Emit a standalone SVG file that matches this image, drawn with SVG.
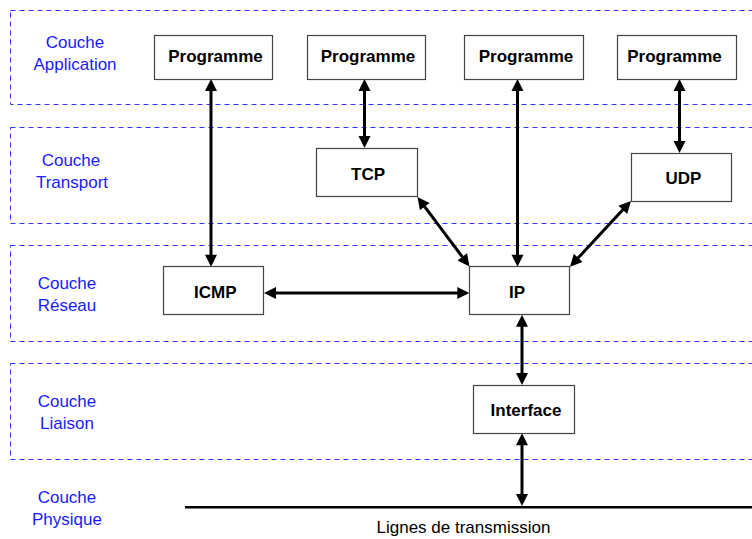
<svg xmlns="http://www.w3.org/2000/svg" width="752" height="539" viewBox="0 0 752 539">
<style>
.layer{fill:none;stroke:#3333ff;stroke-width:1;stroke-dasharray:5 4}
.lbl{font-family:"Liberation Sans",Arial,sans-serif;font-size:17px;fill:#1a1aff;text-anchor:middle}
.box{fill:#fff;stroke:#444;stroke-width:1.2}
.bt{font-family:"Liberation Sans",Arial,sans-serif;font-size:17px;font-weight:bold;fill:#000;text-anchor:middle}
.con{stroke:#000;stroke-width:3;fill:none;marker-start:url(#ah);marker-end:url(#ah)}
</style>
<defs>
<marker id="ah" markerUnits="userSpaceOnUse" markerWidth="12" markerHeight="12" refX="1" refY="6" orient="auto-start-reverse" overflow="visible">
<path d="M0,0 L12,6 L0,12 z" fill="#000"/>
</marker>
</defs>
<rect width="752" height="539" fill="#fff"/>
<g id="layers">
<rect class="layer" x="10.5" y="10.5" width="760" height="94"/>
<rect class="layer" x="10.5" y="127.5" width="760" height="96"/>
<rect class="layer" x="10.5" y="245.5" width="760" height="96"/>
<rect class="layer" x="10.5" y="363.5" width="760" height="96"/>
<text class="lbl" x="75" y="48">Couche</text>
<text class="lbl" x="75" y="70">Application</text>
<text class="lbl" x="71" y="166">Couche</text>
<text class="lbl" x="72" y="188">Transport</text>
<text class="lbl" x="67" y="289">Couche</text>
<text class="lbl" x="67" y="311">Réseau</text>
<text class="lbl" x="67" y="407">Couche</text>
<text class="lbl" x="67" y="429">Liaison</text>
<text class="lbl" x="67" y="503">Couche</text>
<text class="lbl" x="67" y="525">Physique</text>
</g>
<g id="physique">
<line x1="185" y1="507.3" x2="752" y2="507.3" stroke="#000" stroke-width="2.5"/>
<text x="376.5" y="533" font-family="'Liberation Sans',Arial,sans-serif" font-size="17" fill="#000">Lignes de transmission</text>
</g>
<g id="connectors">
<line class="con" x1="211" y1="90" x2="211" y2="255.7"/>
<line class="con" x1="364.5" y1="90" x2="364.5" y2="137"/>
<line class="con" x1="517.5" y1="90" x2="517.5" y2="255.7"/>
<line class="con" x1="679.5" y1="90" x2="679.5" y2="142"/>
<line class="con" x1="424.1" y1="205.8" x2="462.9" y2="257.7"/>
<line class="con" x1="623.5" y1="209.1" x2="577.5" y2="258.6"/>
<line class="con" x1="275" y1="293" x2="458.3" y2="293"/>
<line class="con" x1="522" y1="325.7" x2="522" y2="374"/>
<line class="con" x1="522" y1="444.3" x2="522" y2="495"/>
</g>
<g id="prog1"><rect class="box" x="154.5" y="35.5" width="118" height="44"/><text class="bt" x="215.5" y="61.5">Programme</text></g>
<g id="prog2"><rect class="box" x="307.5" y="35.5" width="118" height="44"/><text class="bt" x="368" y="61.5">Programme</text></g>
<g id="prog3"><rect class="box" x="464.5" y="35.5" width="119" height="44"/><text class="bt" x="526" y="61.5">Programme</text></g>
<g id="prog4"><rect class="box" x="617.5" y="35.5" width="119" height="44"/><text class="bt" x="674.5" y="61.5">Programme</text></g>
<g id="tcp"><rect class="box" x="316.5" y="148.5" width="101" height="48"/><text class="bt" x="368" y="180">TCP</text></g>
<g id="udp"><rect class="box" x="631.5" y="153.5" width="100" height="48"/><text class="bt" x="683.5" y="184">UDP</text></g>
<g id="icmp"><rect class="box" x="163.5" y="266.5" width="100" height="48"/><text class="bt" x="215.3" y="297.5">ICMP</text></g>
<g id="ip"><rect class="box" x="469.5" y="266.5" width="100" height="48"/><text class="bt" x="517" y="297.5">IP</text></g>
<g id="interface"><rect class="box" x="473.5" y="385.5" width="101" height="48"/><text class="bt" x="526" y="416">Interface</text></g>
</svg>
